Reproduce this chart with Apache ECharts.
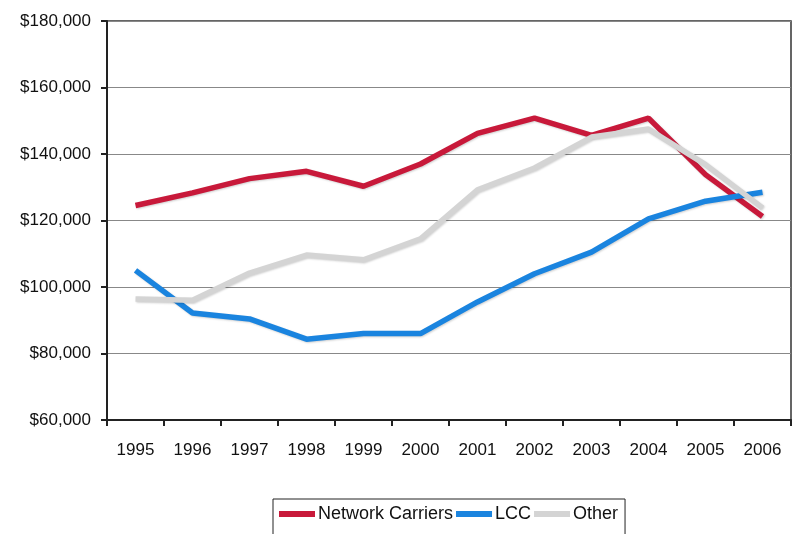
<!DOCTYPE html>
<html>
<head>
<meta charset="utf-8">
<script src="https://cdn.jsdelivr.net/npm/echarts@6/dist/echarts.min.js"></script>
<style>html,body{margin:0;padding:0;background:#fff;}#c{width:804px;height:534px;}</style>
</head>
<body>
<div id="c"></div>
<script>
const years = ['1995','1996','1997','1998','1999','2000','2001','2002','2003','2004','2005','2006'];
const networkCarriers = [124500, 128300, 132600, 134800, 130300, 137000, 146200, 150800, 145600, 150800, 133800, 121200];
const lcc = [105000, 92200, 90400, 84300, 86000, 86000, 95500, 104000, 110500, 120500, 125800, 128500];
const other = [96400, 96000, 104200, 109600, 108200, 114500, 129200, 135800, 145100, 147500, 136800, 123800];
const yTicks = [60000, 80000, 100000, 120000, 140000, 160000, 180000];

// detect a narrow sans font (the reference text is tall and condensed)
function hasFont(name) {
  const c = document.createElement('canvas').getContext('2d');
  const s = 'Network Carriers $180,000 1995';
  c.font = '20px monospace'; const a = c.measureText(s).width;
  c.font = "20px '" + name + "', monospace"; const b = c.measureText(s).width;
  return Math.abs(a - b) > 0.5;
}
let font = 'Liberation Sans, Arial, sans-serif', axisSize = 17, legendSize = 18;
if (hasFont('Liberation Sans Narrow')) { font = 'Liberation Sans Narrow'; axisSize = 20.5; legendSize = 21.5; }
else if (hasFont('Arial Narrow')) { font = 'Arial Narrow'; axisSize = 20.5; legendSize = 21.5; }

const chart = echarts.init(document.getElementById('c'), null, {renderer: 'canvas'});
function lineSeries(name, data, color) {
  return {
    name, type: 'line', data, symbol: 'none', smooth: false,
    lineStyle: {color, width: 5.5, shadowColor: 'rgba(0,0,0,0.18)', shadowBlur: 2, shadowOffsetX: 1, shadowOffsetY: 1},
    itemStyle: {color}
  };
}
chart.setOption({
  animation: false,
  backgroundColor: '#fff',
  grid: {left: 107, right: 13, top: 21, bottom: 114, show: true, borderColor: '#333', borderWidth: 1.5, containLabel: false},
  xAxis: {
    type: 'category', data: years, boundaryGap: true,
    axisLine: {lineStyle: {color: '#222', width: 2}},
    axisTick: {show: true, alignWithLabel: false, length: 6, lineStyle: {color: '#222', width: 2}},
    axisLabel: {color: '#111', fontSize: axisSize, fontFamily: font, margin: 22}
  },
  yAxis: {
    type: 'value', min: yTicks[0], max: yTicks[yTicks.length - 1], interval: 20000,
    axisLine: {show: true, lineStyle: {color: '#222', width: 2}},
    axisTick: {show: true, length: 6, lineStyle: {color: '#222', width: 2}},
    splitLine: {lineStyle: {color: '#888', width: 1}},
    axisLabel: {color: '#111', fontSize: axisSize, fontFamily: font, margin: 16,
      formatter: v => '$' + v.toLocaleString('en-US')}
  },
  legend: {
    top: 499, left: 273,
    itemWidth: 36, itemHeight: 6, itemGap: 3, icon: 'rect',
    borderColor: '#222', borderWidth: 1,
    padding: [6, 7, 16, 6],
    textStyle: {color: '#111', fontSize: legendSize, fontFamily: font, padding: [0, 0, 0, -2]},
    data: ['Network Carriers', 'LCC', 'Other']
  },
  series: [
    lineSeries('Network Carriers', networkCarriers, '#c8193a'),
    lineSeries('LCC', lcc, '#1a84df'),
    lineSeries('Other', other, '#d4d4d4')
  ]
});
</script>
</body>
</html>
